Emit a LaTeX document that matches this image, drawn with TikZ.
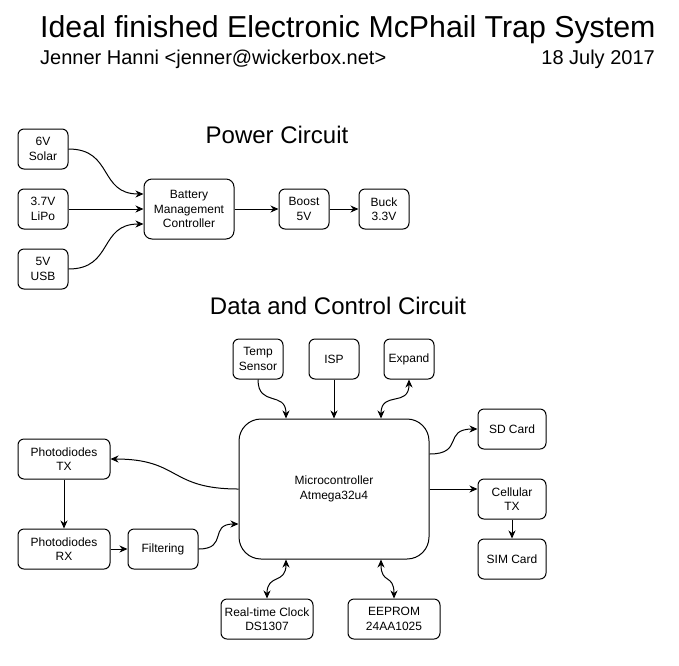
\documentclass[tikz,border=0pt]{standalone}
\usepackage{fontspec}
\setmainfont{Liberation Sans}
\usetikzlibrary{arrows.meta,positioning}

\tikzset{
  blk/.style={draw, line width=1pt, rounded corners=6pt, align=center,
    inner sep=0pt, minimum width=50, minimum height=40,
    font=\fontsize{12}{14.4}\selectfont},
  conn/.style={line width=1pt, ->},
  bidir/.style={line width=1pt, <->},
  heading/.style={inner sep=0pt, anchor=base, font=\fontsize{24}{28}\selectfont},
}

\begin{document}
\begin{tikzpicture}[x=1pt, y=-1pt,
    >={Stealth[length=8pt,width=7pt,inset=2.5pt]}]
    \useasboundingbox (0,0) rectangle (679,665);

    % title block
    \node[inner sep=0pt, anchor=base west, font=\fontsize{30.3}{34}\selectfont] (title) at (40,37)
        {Ideal finished Electronic McPhail Trap System};
    \node[inner sep=0pt, anchor=base west, font=\fontsize{20}{24}\selectfont] (author) at (40,64)
        {Jenner Hanni <jenner@wickerbox.net>};
    \node[inner sep=0pt, anchor=base east, font=\fontsize{20}{24}\selectfont] (date) at (655,64)
        {18 July 2017};

    % power circuit
    \node[heading] (powerhead) at (277,143) {Power Circuit};
    \node[blk] (solar) at (43,149) {6V\\Solar};
    \node[blk] (lipo) at (43,209) {3.7V\\LiPo};
    \node[blk] (usb) at (43,269) {5V\\USB};
    \node[blk, minimum width=90, minimum height=60, rounded corners=8pt] (bmc) at (189,209)
        {Battery\\Management\\Controller};
    \node[blk] (boost) at (304,209) {Boost\\5V};
    \node[blk] (buck) at (384,209) {Buck\\3.3V};

    \draw[conn] (solar.east) .. controls +(45,0) and +(-45,0) .. ([yshift=15pt]bmc.west);
    \draw[conn] (lipo.east) -- (bmc.west);
    \draw[conn] (usb.east) .. controls +(45,0) and +(-45,0) .. ([yshift=-15pt]bmc.west);
    \draw[conn] (bmc.east) -- (boost.west);
    \draw[conn] (boost.east) -- (buck.west);

    % data and control circuit
    \node[heading] (datahead) at (338,314) {Data and Control Circuit};
    \node[blk, minimum width=190, minimum height=140, rounded corners=22pt] (mcu) at (334,489)
        {Microcontroller\\Atmega32u4};
    \node[blk] (temp) at (258,359) {Temp\\Sensor};
    \node[blk] (isp) at (334,359) {ISP};
    \node[blk] (expand) at (409,359) {Expand};
    \node[blk, minimum width=92] (ptx) at (64,459) {Photodiodes\\TX};
    \node[blk, minimum width=92] (prx) at (64,549) {Photodiodes\\RX};
    \node[blk, minimum width=70] (filter) at (163,549) {Filtering};
    \node[blk, minimum width=92] (rtc) at (267,619) {Real-time Clock\\DS1307};
    \node[blk, minimum width=92] (eeprom) at (394,619) {EEPROM\\24AA1025};
    \node[blk, minimum width=68] (sd) at (512,429) {SD Card};
    \node[blk, minimum width=68] (cell) at (512,499) {Cellular\\TX};
    \node[blk, minimum width=68] (sim) at (512,559) {SIM Card};

    \draw[conn] (temp.south) .. controls +(0,28) and +(0,-28) .. ([xshift=-48pt]mcu.north);
    \draw[conn] (isp.south) -- (isp.south |- mcu.north);
    \draw[bidir] (expand.south) .. controls +(0,28) and +(0,-28) .. ([xshift=47pt]mcu.north);
    \draw[conn] (mcu.west) .. controls +(-70,0) and +(70,0) .. (ptx.east);
    \draw[conn] (ptx.south) -- (prx.north);
    \draw[conn] (prx.east) -- (filter.west);
    \draw[conn] (filter.east) .. controls +(30,0) and +(-30,0) .. ([yshift=-35pt]mcu.west);
    \draw[bidir] ([xshift=-48pt]mcu.south) .. controls +(0,25) and +(0,-25) .. (rtc.north);
    \draw[bidir] ([xshift=47pt]mcu.south) .. controls +(0,25) and +(0,-25) .. (eeprom.north);
    \draw[conn] ([yshift=35pt]mcu.east) .. controls +(35,0) and +(-35,0) .. (sd.west);
    \draw[conn] (mcu.east) -- (mcu.east -| cell.west);
    \draw[conn] (cell.south) -- (sim.north);
\end{tikzpicture}
\end{document}
